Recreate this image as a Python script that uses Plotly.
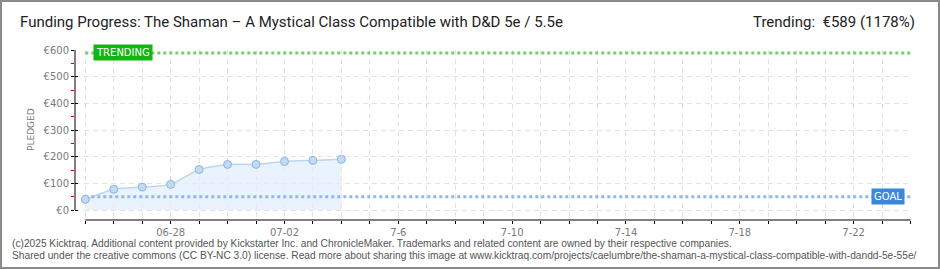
import plotly.graph_objects as go

# ---- data ----
dates = ["2025-06-25", "2025-06-26", "2025-06-27", "2025-06-28", "2025-06-29",
         "2025-06-30", "2025-07-01", "2025-07-02", "2025-07-03", "2025-07-04"]
pledged = [40, 78, 86, 96, 152, 171, 171, 182, 186, 190]
campaign_start = "2025-06-25"
campaign_end = "2025-07-24"
goal = 50
trending = 589
trending_pct = 1178
x_tick_vals = ["2025-06-28", "2025-07-02", "2025-07-06", "2025-07-10",
               "2025-07-14", "2025-07-18", "2025-07-22"]
x_tick_text = ["06-28", "07-02", "7-6", "7-10", "7-14", "7-18", "7-22"]
y_tick_vals = [0, 100, 200, 300, 400, 500, 600]
y_tick_text = ["€0", "€100", "€200", "€300", "€400", "€500", "€600"]

title_text = "Funding Progress: The Shaman \u2013 A Mystical Class Compatible with D&D 5e / 5.5e"
footer1 = ("(c)2025 Kicktraq. Additional content provided by Kickstarter Inc. and ChronicleMaker. "
           "Trademarks and related content are owned by their respective companies.")
footer2 = ("Shared under the creative commons (CC BY-NC 3.0) license. Read more about sharing this image at "
           "www.kicktraq.com/projects/caelumbre/the-shaman-a-mystical-class-compatible-with-dandd-5e-55e/")

# ---- layout geometry ----
W, H = 940, 270
L, R, T, B = 75, 29, 50, 50
PW, PH = W - L - R, H - T - B


def px_x(p):
    return (p - L) / PW


def px_y(p):
    return (H - B - p) / PH


GRID = "#e2e2e2"
HEAD_FONT = dict(family="Roboto", size=15, color="#222222")
fig = go.Figure()

# trending line
fig.add_trace(go.Scatter(x=[campaign_start, campaign_end], y=[trending, trending], mode="lines",
                         line=dict(color="#72cf6c", width=3, dash="dot"), hoverinfo="skip",
                         showlegend=False))
# pledged area
fig.add_trace(go.Scatter(x=dates, y=pledged, mode="lines", fill="tozeroy",
                         fillcolor="rgba(226,238,252,0.75)",
                         line=dict(color="#bcd6f2", width=1.5, shape="spline", smoothing=0.6),
                         hoverinfo="skip", showlegend=False))
# goal line
fig.add_trace(go.Scatter(x=[campaign_start, campaign_end], y=[goal, goal], mode="lines",
                         line=dict(color="#8fb8e6", width=3, dash="dot"), hoverinfo="skip",
                         showlegend=False))
fig.add_trace(go.Scatter(x=dates, y=pledged, mode="markers",
                         marker=dict(size=8, color="#bfdcf7", line=dict(color="#93b2d3", width=1)),
                         hoverinfo="skip", showlegend=False))
# invisible trace for y2 (inside ticks)
fig.add_trace(go.Scatter(x=[campaign_start], y=[0], yaxis="y2", mode="markers",
                         marker=dict(opacity=0), hoverinfo="skip", showlegend=False))

tick_font = dict(family="DejaVu Sans", size=10, color="#7a7a7a")

fig.update_layout(
    width=W, height=H,
    margin=dict(l=L, r=R, t=T, b=B),
    paper_bgcolor="white", plot_bgcolor="white",
    title=dict(text=title_text, x=20 / W, y=1 - 22 / H, xanchor="left", yanchor="middle",
               font=HEAD_FONT),
    xaxis=dict(
        type="date", range=["2025-06-24 15:19", "2025-07-24 00:23"],
        tickmode="array", tickvals=x_tick_vals, ticktext=x_tick_text,
        ticks="outside", ticklen=3, tickcolor="black", tickwidth=1,
        tickfont=tick_font,
        showgrid=True, gridcolor=GRID, griddash="5px,4px", gridwidth=1,
        minor=dict(dtick=86400000, tick0=campaign_start, ticks="outside", ticklen=3,
                   tickcolor="black", showgrid=True, gridcolor=GRID, griddash="5px,4px"),
        showline=False, zeroline=False, fixedrange=True,
    ),
    yaxis=dict(
        range=[-37.5, 600],
        tickmode="array", tickvals=y_tick_vals, ticktext=y_tick_text,
        ticks="outside", ticklen=3, tickcolor="black", tickwidth=1,
        tickfont=tick_font,
        showgrid=True, gridcolor=GRID, griddash="5px,4px", gridwidth=1,
        minor=dict(dtick=100, tick0=50, ticks="outside", ticklen=3, tickcolor="#e00000",
                   showgrid=False),
        showline=False, zeroline=False, fixedrange=True,
    ),
    yaxis2=dict(
        overlaying="y", side="left", range=[-37.5, 600],
        tickmode="array", tickvals=y_tick_vals, ticks="inside", ticklen=3, tickcolor="black",
        showticklabels=False, showgrid=False, zeroline=False, showline=False,
    ),
)

# axis lines
fig.add_shape(type="line", xref="paper", yref="y", x0=0, x1=0, y0=0, y1=600,
              line=dict(color="black", width=1))
fig.add_shape(type="line", xref="x", yref="paper", x0=campaign_start, x1=campaign_end, y0=px_y(220),
              y1=px_y(220), line=dict(color="black", width=1))
# outer border
fig.add_shape(type="rect", xref="paper", yref="paper", x0=px_x(1), x1=px_x(939),
              y0=px_y(268), y1=px_y(1), line=dict(color="#8a8a8a", width=2))

# badges
fig.add_annotation(xref="paper", yref="y", x=px_x(93), y=trending, xanchor="left", yanchor="middle",
                   text="TRENDING", showarrow=False, bgcolor="#14b414", borderpad=2,
                   font=dict(family="DejaVu Sans", size=10, color="white"))
fig.add_annotation(xref="paper", yref="y", x=px_x(905), y=goal, xanchor="right", yanchor="middle",
                   text="GOAL", showarrow=False, bgcolor="#3b88da", borderpad=2,
                   font=dict(family="DejaVu Sans", size=10, color="white"))

# header right
fig.add_annotation(xref="paper", yref="paper", x=px_x(917), y=px_y(22), xanchor="right",
                   yanchor="middle", showarrow=False,
                   text=f"Trending:  €{trending} ({trending_pct}%)", font=HEAD_FONT)
# y title
fig.add_annotation(xref="paper", yref="paper", x=px_x(31), y=px_y(130), xanchor="center",
                   yanchor="middle", showarrow=False, text="PLEDGED", textangle=-90,
                   font=dict(family="DejaVu Sans", size=9, color="#777777"))
# footer
foot_font = dict(family="Liberation Sans", size=10.2, color="#555555")
fig.add_annotation(xref="paper", yref="paper", x=px_x(10), y=px_y(243), xanchor="left",
                   yanchor="middle", showarrow=False, text=footer1, font=foot_font)
fig.add_annotation(xref="paper", yref="paper", x=px_x(10), y=px_y(255), xanchor="left",
                   yanchor="middle", showarrow=False, text=footer2, font=foot_font)

fig.write_html("out.html")
